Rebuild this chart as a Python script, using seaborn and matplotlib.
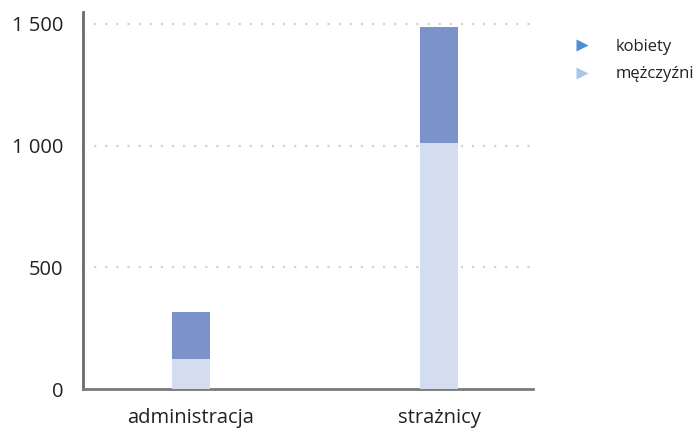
import matplotlib
matplotlib.use("Agg")
import matplotlib.pyplot as plt
import seaborn as sns
import pandas as pd
from matplotlib.lines import Line2D
from matplotlib.ticker import FuncFormatter

categories = ["administracja", "strażnicy"]
mezczyzni = [123, 1012]
kobiety = [193, 477]
series_names = ["kobiety", "mężczyźni"]
yticks = [0, 500, 1000, 1500]

sns.set_theme(style="white")
plt.rcParams['font.family'] = ['Open Sans', 'DejaVu Sans']

df = pd.DataFrame({
    "kategoria": categories,
    "mezczyzni": mezczyzni,
    "kobiety": kobiety,
})
df["razem"] = df["mezczyzni"] + df["kobiety"]

fig = plt.figure(figsize=(6.99, 4.32), dpi=100)
ax = fig.add_axes([0.1187, 0.0995, 0.6438, 0.8727])

col_top = "#7b92cb"
col_bottom = "#d4dcef"

sns.barplot(data=df, x="kategoria", y="razem", color=col_top, saturation=1,
            width=0.153, ax=ax, zorder=3, linewidth=0, edgecolor="none")
sns.barplot(data=df, x="kategoria", y="mezczyzni", color=col_bottom, saturation=1,
            width=0.153, ax=ax, zorder=3, linewidth=0, edgecolor="none")

ax.set_xlim(-0.435, 1.379)
ax.set_ylim(0, 1549)
ax.set_yticks(yticks)
ax.yaxis.set_major_formatter(FuncFormatter(lambda v, p: f"{int(v):,}".replace(",", " ")))
ax.set_xlabel("")
ax.set_ylabel("")

for v in yticks[1:]:
    ax.axhline(v, color="#d2d2d2", linestyle=(0, (1, 4)), linewidth=1.6, zorder=1)

for s in ["top", "right"]:
    ax.spines[s].set_visible(False)
ax.spines["left"].set_color("#6a6a6a")
ax.spines["left"].set_linewidth(2)
ax.spines["bottom"].set_color("#7a7a7a")
ax.spines["bottom"].set_linewidth(2)

ax.tick_params(axis="y", length=0, pad=14, labelsize=14.5, labelcolor="#222222")
ax.tick_params(axis="x", length=0, pad=14, labelsize=14.5, labelcolor="#222222")

handles = [
    Line2D([0], [0], marker=">", linestyle="none", markersize=8,
           markerfacecolor="#4a8fd6", markeredgecolor="none"),
    Line2D([0], [0], marker=">", linestyle="none", markersize=8,
           markerfacecolor="#a9c6e8", markeredgecolor="none"),
]
fig.legend(handles, series_names, loc="upper left", bbox_to_anchor=(0.788, 0.945),
           frameon=False, fontsize=12, handletextpad=1.0, labelspacing=0.7,
           labelcolor="#222222")

fig.savefig("out.png", dpi=100)
